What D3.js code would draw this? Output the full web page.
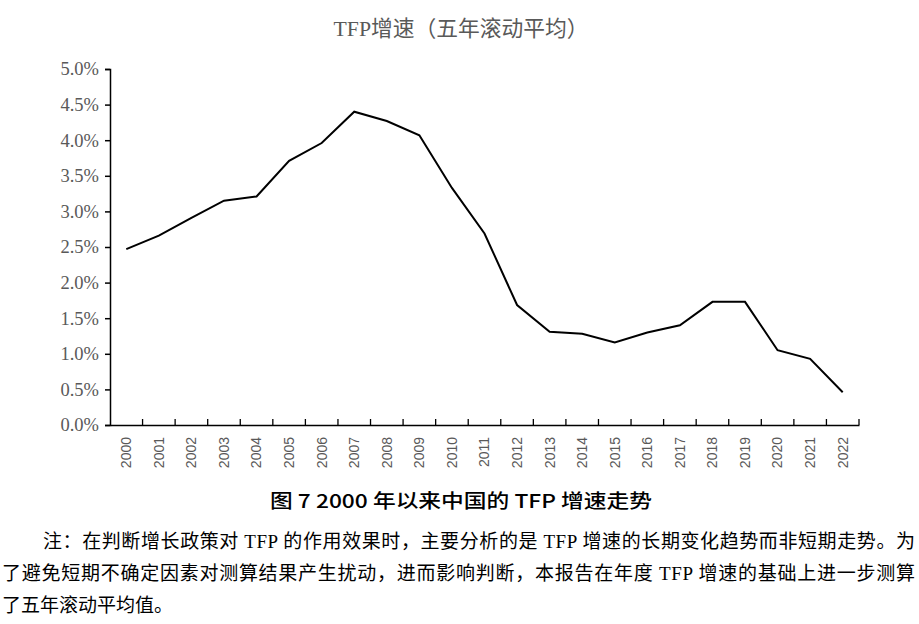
<!DOCTYPE html>
<html><head><meta charset="utf-8">
<script src="https://cdn.jsdelivr.net/npm/d3@7"></script>
<style>body{margin:0;background:#fff;} svg{display:block;}</style>
</head><body>
<script>
const years = ["2000","2001","2002","2003","2004","2005","2006","2007","2008","2009","2010","2011","2012","2013","2014","2015","2016","2017","2018","2019","2020","2021","2022"];
const tfpGrowth = [2.47,2.66,2.91,3.15,3.21,3.71,3.96,4.40,4.27,4.07,3.33,2.69,1.685,1.31,1.28,1.16,1.30,1.40,1.73,1.73,1.05,0.93,0.46];
const yTicks = [0,0.5,1.0,1.5,2.0,2.5,3.0,3.5,4.0,4.5,5.0];
const chartTitle = "TFP增速（五年滚动平均）";
const caption = "图 7  2000 年以来中国的 TFP 增速走势";
const noteLines = [
  "注：在判断增长政策对 TFP 的作用效果时，主要分析的是 TFP 增速的长期变化趋势而非短期走势。为",
  "了避免短期不确定因素对测算结果产生扰动，进而影响判断，本报告在年度 TFP 增速的基础上进一步测算",
  "了五年滚动平均值。"
];

(function(){
const W = 919, H = 624;
const svg = d3.select("body").append("svg").attr("width", W).attr("height", H);
const mLeft = 110, mRight = 859, mTop = 69, mBottom = 425;

const x = d3.scaleBand().domain(years).range([mLeft, mRight]).padding(0);
const y = d3.scaleLinear().domain([0, 5]).range([mBottom, mTop]);

const serif = "'Liberation Serif','Noto Sans CJK SC',serif";
const cjk = "'Liberation Serif','Noto Sans CJK SC',sans-serif";

svg.append("text").attr("x", 461).attr("y", 36).attr("text-anchor", "middle")
  .attr("font-family", cjk).attr("font-size", 22).attr("fill", "#595959")
  .attr("textLength", 255).attr("lengthAdjust", "spacingAndGlyphs").text(chartTitle);

const yAxis = svg.append("g").attr("transform", `translate(${mLeft},0)`)
  .call(d3.axisLeft(y).tickValues(yTicks).tickFormat(d => d.toFixed(1) + "%").tickSize(5).tickPadding(6));
yAxis.select(".domain").attr("stroke", "#000").attr("stroke-width", 1.5);
yAxis.selectAll(".tick line").attr("stroke", "#000").attr("stroke-width", 1.5);
yAxis.selectAll(".tick text").attr("font-family", serif).attr("font-size", 18.5).attr("fill", "#595959");

const xAxis = svg.append("g").attr("transform", `translate(0,${mBottom})`)
  .call(d3.axisBottom(x).tickSize(0).tickPadding(0));
xAxis.select(".domain").attr("stroke", "#000").attr("stroke-width", 1.5);
xAxis.selectAll(".tick text")
  .attr("font-family", "'Liberation Sans',Arial,sans-serif").attr("font-size", 14).attr("fill", "#595959")
  .attr("transform", "rotate(-90)").attr("text-anchor", "end").attr("dy", "0.35em")
  .attr("x", -12).attr("y", 0);
const bounds = years.map(d => x(d)).concat([mRight]);
svg.append("g").selectAll("line").data(bounds.slice(1)).join("line")
  .attr("x1", d => d).attr("x2", d => d).attr("y1", mBottom).attr("y2", mBottom - 6)
  .attr("stroke", "#000").attr("stroke-width", 1.3);

const line = d3.line().x((d, i) => x(years[i]) + x.bandwidth() / 2).y(d => y(d));
svg.append("path").datum(tfpGrowth).attr("d", line)
  .attr("fill", "none").attr("stroke", "#000").attr("stroke-width", 2).attr("stroke-linejoin", "miter");

svg.append("text").attr("x", 461).attr("y", 508).attr("text-anchor", "middle")
  .attr("font-family", "'Noto Sans CJK SC',sans-serif").attr("font-size", 19).attr("font-weight", 500)
  .attr("fill", "#000").attr("textLength", 382).attr("lengthAdjust", "spacingAndGlyphs").text(caption);

const noteX = [43, 2, 2], noteY = [548, 580, 612], noteLen = [872, 913, null];
noteLines.forEach((t, i) => {
  const tx = svg.append("text").attr("x", noteX[i]).attr("y", noteY[i])
    .attr("font-family", cjk).attr("font-size", 19).attr("fill", "#000").text(t);
  if (noteLen[i]) tx.attr("textLength", noteLen[i]).attr("lengthAdjust", "spacing");
});
})();
</script>
</body></html>
